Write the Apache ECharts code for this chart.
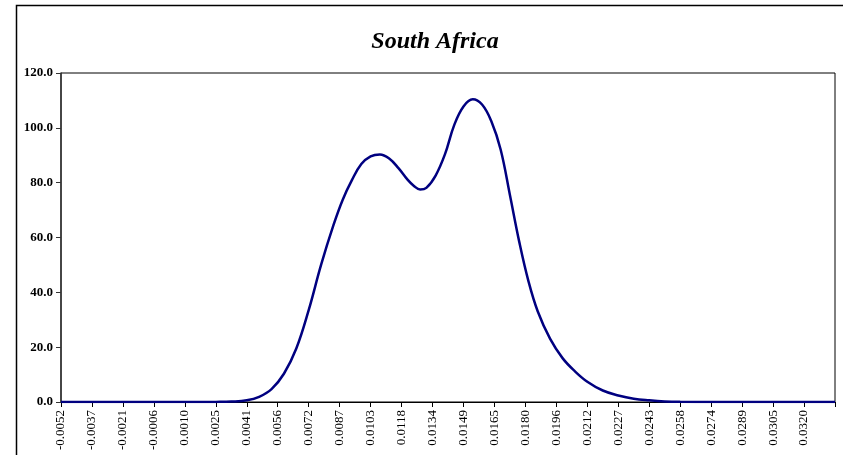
<!DOCTYPE html>
<html>
<head>
<meta charset="utf-8">
<script src="https://cdn.jsdelivr.net/npm/echarts@6/dist/echarts.min.js"></script>
<style>
  html, body { margin: 0; padding: 0; background: #fff; }
  #chart { width: 843px; height: 455px; }
</style>
</head>
<body>
<div id="chart"></div>
<script>
  // x axis: 251 categories, a label every 10th one
  const tickLabels = [
    "-0.0052", "-0.0037", "-0.0021", "-0.0006", "0.0010", "0.0025", "0.0041",
    "0.0056", "0.0072", "0.0087", "0.0103", "0.0118", "0.0134", "0.0149",
    "0.0165", "0.0180", "0.0196", "0.0212", "0.0227", "0.0243", "0.0258",
    "0.0274", "0.0289", "0.0305", "0.0320",
  ]
  const categoryCount = 251
  const categories = Array.from({ length: categoryCount }, (_, i) => String(i))

  // density, [category index, value]
  const pointIdx = [
    0, 10, 20, 30, 40, 45, 50, 55, 60, 64, 68, 72, 76, 80, 84, 88, 91, 94, 97,
    100, 103, 106, 109, 112, 114, 116, 118, 121, 124, 127, 130, 133, 136, 139,
    142, 145, 148, 151, 154, 158, 162, 166, 170, 175, 180, 185, 190, 195, 200,
    210, 220, 230, 240, 250,
  ]
  const pointVal = [
    0, 0, 0, 0, 0, 0, 0.03, 0.15, 0.6, 1.9, 4.7, 10.3, 19.5, 33.5, 50.0, 64.5, 73.8, 81.0, 86.8,
    89.6, 90.3, 88.8, 85.3, 81.0, 78.8, 77.5, 78.1, 82.6, 90.3, 101.0, 107.8, 110.4, 108.5, 102.4,
    92.1, 75.5, 58.5, 44.0, 33.0, 23.0, 16.0, 11.2, 7.4, 4.2, 2.4, 1.2, 0.6, 0.2, 0.05,
    0, 0, 0, 0, 0,
  ]

  const serif = "'Liberation Serif', 'Times New Roman', serif"

  const option = {
    animation: false,
    backgroundColor: "#fff",
    title: {
      text: "South Africa",
      left: 430,
      top: 25,
      textAlign: "center",
      textStyle: {
        fontFamily: serif,
        fontStyle: "italic",
        fontWeight: "bold",
        fontSize: 24,
        color: "#000",
      },
    },
    graphic: [
      {
        type: "rect",
        shape: { x: 16.5, y: 5.5, width: 900, height: 500 },
        style: { fill: null, stroke: "#000", lineWidth: 1.5 },
        silent: true,
      },
    ],
    grid: {
      left: 61,
      right: 8,
      top: 73,
      bottom: 53,
      show: true,
      borderColor: "#000",
      borderWidth: 1,
      backgroundColor: "#fff",
    },
    xAxis: {
      type: "category",
      boundaryGap: false,
      data: categories,
      axisLine: { lineStyle: { color: "#000", width: 1 } },
      axisTick: {
        inside: false,
        length: 5,
        interval: (idx) => idx % 10 === 0,
        lineStyle: { color: "#000" },
      },
      axisLabel: {
        interval: (idx) => idx % 10 === 0 && idx < 250,
        rotate: 90,
        margin: 8,
        fontFamily: serif,
        fontSize: 13,
        color: "#000",
        formatter: (v) => tickLabels[Number(v) / 10],
      },
      splitLine: { show: false },
    },
    yAxis: {
      type: "value",
      min: 0,
      max: 120,
      interval: 20,
      axisLine: { show: true, lineStyle: { color: "#333", width: 1.5 } },
      axisTick: { show: true, length: 5, lineStyle: { color: "#333" } },
      axisLabel: {
        fontFamily: serif,
        fontWeight: "bold",
        fontSize: 13,
        color: "#000",
        margin: 8,
        formatter: (v) => v.toFixed(1),
      },
      splitLine: { show: false },
    },
    series: [
      {
        type: "line",
        data: pointIdx.map((i, k) => [i, pointVal[k]]),
        smooth: 0.4,
        showSymbol: false,
        lineStyle: { color: "#000080", width: 2.5 },
      },
    ],
  }

  const myChart = echarts.init(document.getElementById("chart"))
  myChart.setOption(option)
</script>
</body>
</html>
